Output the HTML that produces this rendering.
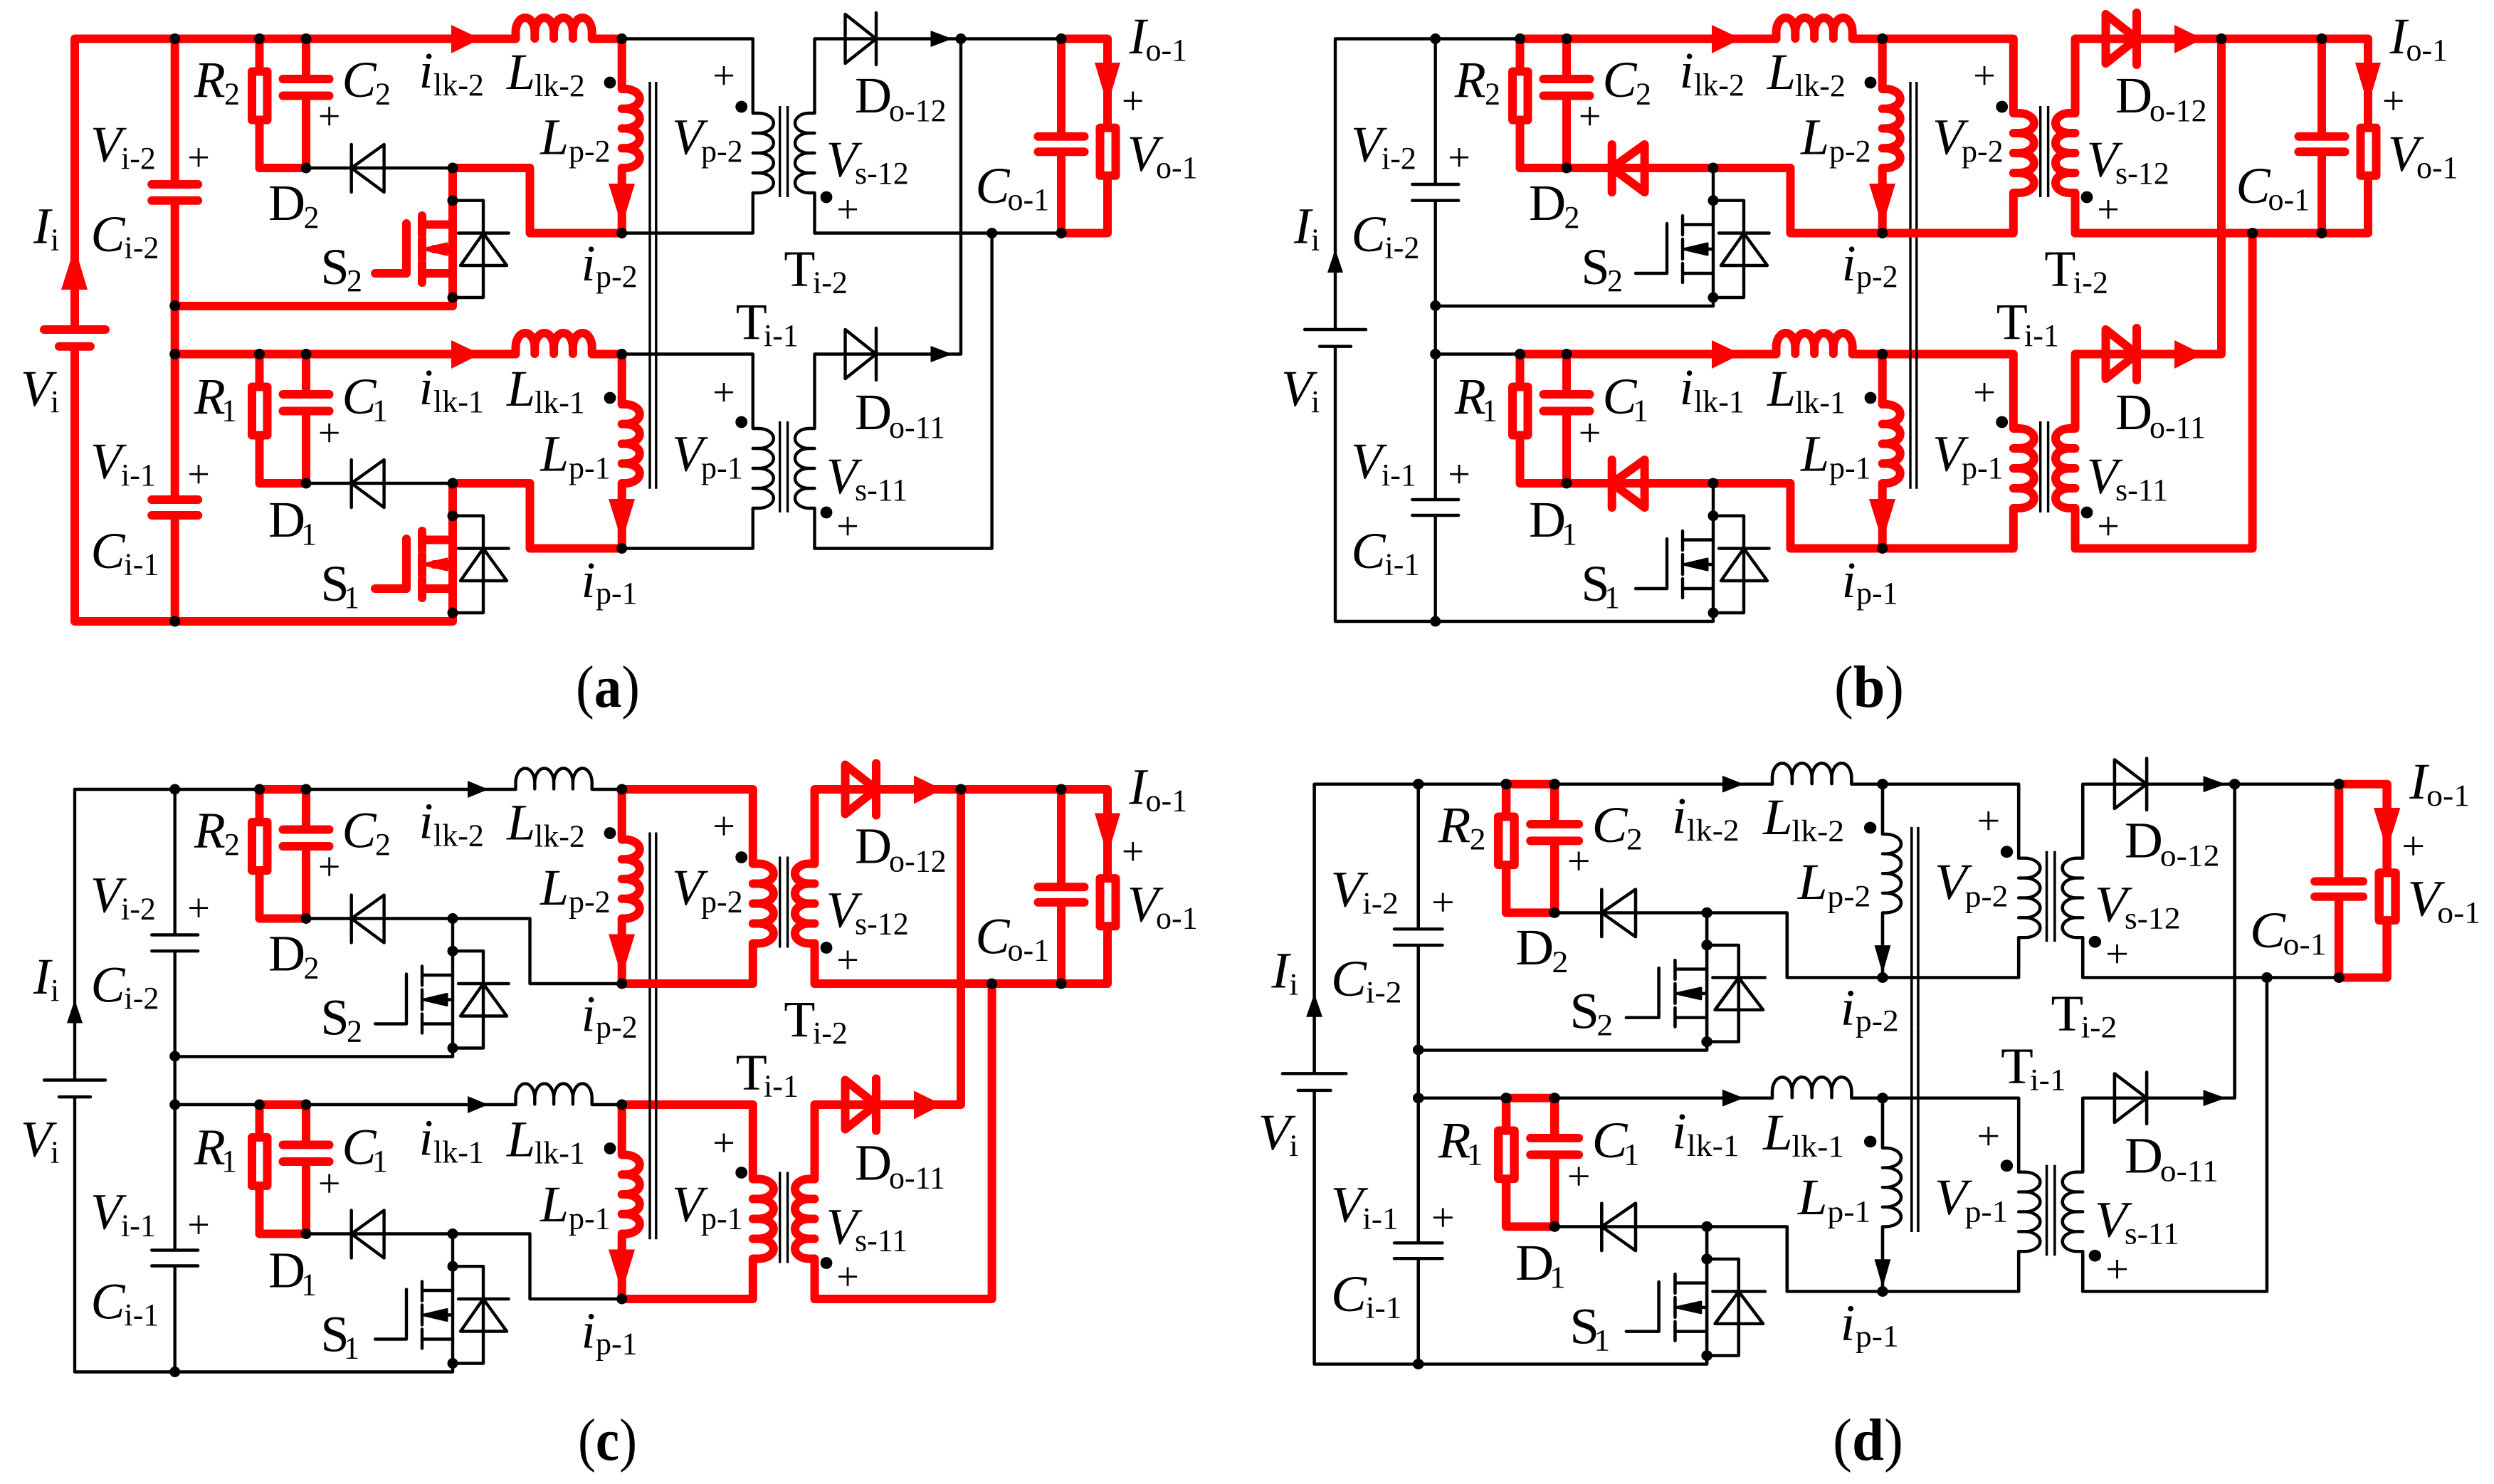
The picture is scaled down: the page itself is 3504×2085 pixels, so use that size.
<!DOCTYPE html>
<html><head><meta charset="utf-8"><title>Circuit operating stages</title>
<style>
html,body{margin:0;padding:0;background:#fff}
svg{display:block}
.r{color:#f00;stroke:#f00;stroke-width:12;fill:none;stroke-linecap:round;stroke-linejoin:round}
.k{color:#000;stroke:#000;stroke-width:4.4;fill:none;stroke-linecap:round;stroke-linejoin:round}
.c{stroke:#000;stroke-width:3.4;fill:none}
.rf{fill:#f00;stroke:none}
.kf{fill:#000;stroke:none}
.n{fill:#000;stroke:none}
.t text{font-family:"Liberation Serif",serif;font-style:italic;font-size:72px;fill:#000}
.t .s{font-style:normal;font-size:44px}
.t .u{font-style:normal}
.t .p{font-style:normal;font-size:56px;text-anchor:middle}
.cap{font-family:"Liberation Serif",serif;font-size:84px;fill:#000}
</style></head><body>
<svg xmlns="http://www.w3.org/2000/svg" width="3504" height="2085" viewBox="0 0 3504 2085">
<defs>
<g id="left"><path d="M105 463V54.5H245.7M105 486.7V873H245.7M62 463H148M83 486.7H127M245.7 54.5V259M245.7 281.7V702M245.7 724V873M213.2 259H278.2M213.2 281.7H278.2M213.2 702H278.2M213.2 724H278.2"/></g>
<path id="sA0" d="M245.7 54.5H364.5"/>
<g id="sA"><use href="#sA0"/><use href="#sA0" y="443"/></g>
<g id="rc0"><path d="M364.5 54.5H430M364.5 54.5V100.5M364.5 168.5V236H430M354 100.5H375.5V168.5H354ZM430 54.5V111M430 134.5V236M397.5 111H462.5M397.5 134.5H462.5"/></g>
<g id="rc"><use href="#rc0"/><use href="#rc0" y="443"/></g>
<path id="ilk0" d="M430 54.5H724.5V45a13.4 20 0 0 1 26.8 0V54V45a13.4 20 0 0 1 26.8 0V54V45a13.4 20 0 0 1 26.8 0V54V45a13.4 20 0 0 1 26.8 0V54.5H873.7"/>
<g id="ilk"><use href="#ilk0"/><use href="#ilk0" y="443"/></g>
<path id="dio0" d="M430 236H636M493.7 203V270M493.7 236L539.6 203V270Z"/>
<g id="dio"><use href="#dio0"/><use href="#dio0" y="443"/></g>
<path id="pk0" d="M636 236H744.5V327.5H873.7"/>
<g id="pk"><use href="#pk0"/><use href="#pk0" y="443"/></g>
<g id="sw0"><path d="M636 236V430H245.7M636 315.5H593M593 303V330M593 336V364M593 370V397M636 384H593M571 314V384H527M636 350H610"/><path d="M594 350L628 342V358Z" fill="currentColor" stroke-width="3"/></g>
<g id="sw"><use href="#sw0"/><use href="#sw0" y="443"/></g>
<g id="bd0"><path d="M636 281.7H679V418H636M644 327.5H714.7M679 327.5L647 373H712Z"/></g>
<g id="bd"><use href="#bd0"/><use href="#bd0" y="443"/></g>
<path id="lp0" d="M873.7 54.5V125H879a21 13.9 0 0 1 0 27.75H873.7H879a21 13.9 0 0 1 0 27.75H873.7H879a21 13.9 0 0 1 0 27.75H873.7H879a21 13.9 0 0 1 0 27.75H873.7V327.5"/>
<g id="lp"><use href="#lp0"/><use href="#lp0" y="443"/></g>
<path id="pri0" d="M873.7 54.5H1057.8V159H1065.8a21 14 0 0 1 0 28H1057.8H1065.8a21 14 0 0 1 0 28H1057.8H1065.8a21 14 0 0 1 0 28H1057.8H1065.8a21 14 0 0 1 0 28H1057.8V327.5H873.7"/>
<g id="pri"><use href="#pri0"/><use href="#pri0" y="443"/></g>
<path id="sec0" d="M1144.5 327.5V271H1136.5a19.5 14 0 0 1 0 -28H1144.5H1136.5a19.5 14 0 0 1 0 -28H1144.5H1136.5a19.5 14 0 0 1 0 -28H1144.5H1136.5a19.5 14 0 0 1 0 -28H1144.5V54.5H1231M1187.5 54.5M1231 18V91M1231 54.5L1187.5 20V89Z"/>
<g id="sec"><use href="#sec0"/><use href="#sec0" y="443"/></g>
<path id="out" d="M1231 54.5H1491M1144.5 327.5H1491M1231 497.5H1350V54.5M1393.6 327.5V770.5H1144.5"/>
<g id="load"><path d="M1491 54.5H1556V179.6M1556 246.7V327.5H1491M1545.5 179.6H1567.5V246.7H1545.5ZM1491 54.5V191.7M1491 213.3V327.5M1458.5 191.7H1523.5M1458.5 213.3H1523.5"/></g>
<g id="core1"><path class="c" d="M913 115V400M921.8 115V400M1095.7 149V277M1106.6 149V277"/></g>
<g id="core2"><path class="c" d="M913 400V686.7M921.8 400V686.7M1095.7 592V720M1106.6 592V720"/></g>
<g id="nodes"><g class="n">
<circle cx="245.7" cy="54.5" r="7.5"/><circle cx="364.5" cy="54.5" r="7.5"/><circle cx="430" cy="54.5" r="7.5"/><circle cx="873.7" cy="54.5" r="7.5"/><circle cx="430" cy="236" r="7.5"/><circle cx="636" cy="236" r="7.5"/><circle cx="636" cy="281.7" r="7.5"/><circle cx="636" cy="418" r="7.5"/><circle cx="245.7" cy="429.5" r="7.5"/><circle cx="873.7" cy="327.5" r="7.5"/><circle cx="1350" cy="54.5" r="7.5"/><circle cx="1393.6" cy="327.5" r="7.5"/><circle cx="1491" cy="54.5" r="7.5"/><circle cx="1491" cy="327.5" r="7.5"/>
<circle cx="245.7" cy="497.5" r="7.5"/><circle cx="364.5" cy="497.5" r="7.5"/><circle cx="430" cy="497.5" r="7.5"/><circle cx="873.7" cy="497.5" r="7.5"/><circle cx="430" cy="679" r="7.5"/><circle cx="636" cy="679" r="7.5"/><circle cx="636" cy="724.7" r="7.5"/><circle cx="636" cy="861" r="7.5"/><circle cx="873.7" cy="770.5" r="7.5"/><circle cx="245.7" cy="873" r="7.5"/>
<circle cx="857" cy="116" r="8.4"/><circle cx="1041.7" cy="150" r="8.4"/><circle cx="1161" cy="277" r="8.4"/><circle cx="857" cy="559" r="8.4"/><circle cx="1041.7" cy="593" r="8.4"/><circle cx="1161" cy="720" r="8.4"/>
</g></g>
<path id="rArrRail" d="M634 35L675 54.5L634 75ZM634 478L675 497.5L634 518Z"/>
<path id="kArrRail" d="M657 42.5L686 54.5L657 66.5ZM657 485.5L686 497.5L657 509.5Z"/>
<path id="rArrLp" d="M855 258H892L873.7 318ZM855 701H892L873.7 761Z"/>
<path id="kArrLp" d="M862.7 282H884.7L873.7 322ZM862.7 725H884.7L873.7 765Z"/>
<path id="rArrIn" d="M86 407H123L105 347Z"/>
<path id="kArrIn" d="M94 383H116L105 350Z"/>
<path id="rArrOut" d="M1284 35L1324 54.5L1284 75ZM1284 478L1324 497.5L1284 518Z"/>
<path id="kArrOut" d="M1307.5 43L1338 54.5L1307.5 66ZM1307.5 486L1338 497.5L1307.5 509Z"/>
<path id="arrLoad" d="M1538 88H1574L1556 148Z"/>
</defs>

<!-- PANEL A -->
<g>
<use href="#core1"/>
<g class="k"><use href="#dio"/><use href="#bd"/><use href="#pri"/><use href="#sec"/><use href="#out"/></g>
<g class="r"><use href="#left"/><use href="#sA"/><use href="#rc"/><use href="#ilk"/><use href="#pk"/><use href="#sw"/><use href="#lp"/><use href="#load"/></g>
<g class="rf"><use href="#rArrRail"/><use href="#rArrLp"/><use href="#rArrIn"/><use href="#arrLoad"/></g>
<g class="kf"><use href="#kArrOut"/></g>
<use href="#core2"/><use href="#nodes"/>
<g class="t">
<text x="127" y="227">V<tspan class="s" x="170" y="237">i-2</tspan></text><text x="127.5" y="353">C<tspan class="s" x="174.5" y="362.7">i-2</tspan></text><text x="272.7" y="136">R<tspan class="s" x="315" y="146.7">2</tspan></text><text x="480.5" y="136">C<tspan class="s" x="527" y="146.7">2</tspan></text><text x="588.6" y="123">i<tspan class="s" x="609" y="134">lk-2</tspan></text><text x="712" y="125">L<tspan class="s" x="751" y="135">lk-2</tspan></text><text x="759" y="216.7">L<tspan class="s" x="799" y="227">p-2</tspan></text><text class="u" x="377" y="309">D<tspan class="s" x="426.5" y="320">2</tspan></text><text class="u" x="450.5" y="399">S<tspan class="s" x="487" y="409">2</tspan></text><text x="816.6" y="394">i<tspan class="s" x="837" y="403">p-2</tspan></text><text x="944" y="216.7">V<tspan class="s" x="985" y="227">p-2</tspan></text><text class="u" x="1201" y="158">D<tspan class="s" x="1249" y="170">o-12</tspan></text><text x="1160.6" y="248">V<tspan class="s" x="1201" y="258">s-12</tspan></text><text class="u" x="1101.4" y="401.7">T<tspan class="s" x="1142" y="411.7">i-2</tspan></text><text class="u" x="1033.7" y="476">T<tspan class="s" x="1073" y="486">i-1</tspan></text><text x="1370.5" y="285">C<tspan class="s" x="1415.5" y="295">o-1</tspan></text><text x="1586.5" y="75">I<tspan class="s" x="1609.5" y="85">o-1</tspan></text><text x="1583.7" y="240">V<tspan class="s" x="1624" y="250">o-1</tspan></text><text x="47" y="341.7">I<tspan class="s" x="71" y="351.7">i</tspan></text><text x="29" y="570">V<tspan class="s" x="71" y="579">i</tspan></text>
<text x="127" y="672">V<tspan class="s" x="170" y="682">i-1</tspan></text><text x="127.5" y="798">C<tspan class="s" x="174.5" y="807.7">i-1</tspan></text><text x="272.7" y="581">R<tspan class="s" x="311" y="591.7">1</tspan></text><text x="480.5" y="581">C<tspan class="s" x="523" y="591.7">1</tspan></text><text x="588.6" y="568">i<tspan class="s" x="609" y="579">lk-1</tspan></text><text x="712" y="570">L<tspan class="s" x="751" y="580">lk-1</tspan></text><text x="759" y="661.7">L<tspan class="s" x="799" y="672">p-1</tspan></text><text class="u" x="377" y="754">D<tspan class="s" x="423" y="765">1</tspan></text><text class="u" x="450.5" y="844">S<tspan class="s" x="483" y="854">1</tspan></text><text x="816.6" y="839">i<tspan class="s" x="837" y="848">p-1</tspan></text><text x="944" y="661.7">V<tspan class="s" x="985" y="672">p-1</tspan></text><text class="u" x="1201" y="603">D<tspan class="s" x="1249" y="615">o-11</tspan></text><text x="1160.6" y="693">V<tspan class="s" x="1201" y="703">s-11</tspan></text>
<text class="p" x="462.7" y="182">+</text><text class="p" x="279" y="240">+</text><text class="p" x="1017" y="125">+</text><text class="p" x="1191" y="313">+</text><text class="p" x="1591.7" y="160.7">+</text><text class="p" x="462.7" y="627">+</text><text class="p" x="279" y="685">+</text><text class="p" x="1017" y="570">+</text><text class="p" x="1191" y="758">+</text>
</g>
<text class="cap" x="809" y="993" textLength="90" lengthAdjust="spacingAndGlyphs">(<tspan font-weight="bold">a</tspan>)</text>
</g>

<!-- PANEL B -->
<g transform="translate(1771 0)">
<use href="#core1"/>
<g class="k"><use href="#left"/><use href="#sA"/><use href="#sw"/><use href="#bd"/></g>
<g class="r"><use href="#rc"/><use href="#ilk"/><use href="#dio"/><use href="#pk"/><use href="#lp"/><use href="#pri"/><use href="#sec"/><use href="#out"/><use href="#load"/></g>
<g class="rf"><use href="#rArrRail"/><use href="#rArrLp"/><use href="#rArrOut"/><use href="#arrLoad"/></g>
<g class="kf"><use href="#kArrIn"/></g>
<use href="#core2"/><use href="#nodes"/>
<g class="t">
<text x="127" y="227">V<tspan class="s" x="170" y="237">i-2</tspan></text><text x="127.5" y="353">C<tspan class="s" x="174.5" y="362.7">i-2</tspan></text><text x="272.7" y="136">R<tspan class="s" x="315" y="146.7">2</tspan></text><text x="480.5" y="136">C<tspan class="s" x="527" y="146.7">2</tspan></text><text x="588.6" y="123">i<tspan class="s" x="609" y="134">lk-2</tspan></text><text x="712" y="125">L<tspan class="s" x="751" y="135">lk-2</tspan></text><text x="759" y="216.7">L<tspan class="s" x="799" y="227">p-2</tspan></text><text class="u" x="377" y="309">D<tspan class="s" x="426.5" y="320">2</tspan></text><text class="u" x="450.5" y="399">S<tspan class="s" x="487" y="409">2</tspan></text><text x="816.6" y="394">i<tspan class="s" x="837" y="403">p-2</tspan></text><text x="944" y="216.7">V<tspan class="s" x="985" y="227">p-2</tspan></text><text class="u" x="1201" y="158">D<tspan class="s" x="1249" y="170">o-12</tspan></text><text x="1160.6" y="248">V<tspan class="s" x="1201" y="258">s-12</tspan></text><text class="u" x="1101.4" y="401.7">T<tspan class="s" x="1142" y="411.7">i-2</tspan></text><text class="u" x="1033.7" y="476">T<tspan class="s" x="1073" y="486">i-1</tspan></text><text x="1370.5" y="285">C<tspan class="s" x="1415.5" y="295">o-1</tspan></text><text x="1586.5" y="75">I<tspan class="s" x="1609.5" y="85">o-1</tspan></text><text x="1583.7" y="240">V<tspan class="s" x="1624" y="250">o-1</tspan></text><text x="47" y="341.7">I<tspan class="s" x="71" y="351.7">i</tspan></text><text x="29" y="570">V<tspan class="s" x="71" y="579">i</tspan></text>
<text x="127" y="672">V<tspan class="s" x="170" y="682">i-1</tspan></text><text x="127.5" y="798">C<tspan class="s" x="174.5" y="807.7">i-1</tspan></text><text x="272.7" y="581">R<tspan class="s" x="311" y="591.7">1</tspan></text><text x="480.5" y="581">C<tspan class="s" x="523" y="591.7">1</tspan></text><text x="588.6" y="568">i<tspan class="s" x="609" y="579">lk-1</tspan></text><text x="712" y="570">L<tspan class="s" x="751" y="580">lk-1</tspan></text><text x="759" y="661.7">L<tspan class="s" x="799" y="672">p-1</tspan></text><text class="u" x="377" y="754">D<tspan class="s" x="423" y="765">1</tspan></text><text class="u" x="450.5" y="844">S<tspan class="s" x="483" y="854">1</tspan></text><text x="816.6" y="839">i<tspan class="s" x="837" y="848">p-1</tspan></text><text x="944" y="661.7">V<tspan class="s" x="985" y="672">p-1</tspan></text><text class="u" x="1201" y="603">D<tspan class="s" x="1249" y="615">o-11</tspan></text><text x="1160.6" y="693">V<tspan class="s" x="1201" y="703">s-11</tspan></text>
<text class="p" x="462.7" y="182">+</text><text class="p" x="279" y="240">+</text><text class="p" x="1017" y="125">+</text><text class="p" x="1191" y="313">+</text><text class="p" x="1591.7" y="160.7">+</text><text class="p" x="462.7" y="627">+</text><text class="p" x="279" y="685">+</text><text class="p" x="1017" y="570">+</text><text class="p" x="1191" y="758">+</text>
</g>
</g>
<text class="cap" x="2577" y="993" textLength="98" lengthAdjust="spacingAndGlyphs">(<tspan font-weight="bold">b</tspan>)</text>

<!-- PANEL C -->
<g transform="translate(0 1054.5)">
<use href="#core1"/>
<g class="k"><use href="#left"/><use href="#sA"/><use href="#ilk"/><use href="#dio"/><use href="#pk"/><use href="#sw"/><use href="#bd"/></g>
<g class="r"><use href="#rc"/><use href="#lp"/><use href="#pri"/><use href="#sec"/><use href="#out"/><use href="#load"/></g>
<g class="rf"><use href="#rArrLp"/><use href="#rArrOut"/><use href="#arrLoad"/></g>
<g class="kf"><use href="#kArrRail"/><use href="#kArrIn"/></g>
<use href="#core2"/><use href="#nodes"/>
<g class="t">
<text x="127" y="227">V<tspan class="s" x="170" y="237">i-2</tspan></text><text x="127.5" y="353">C<tspan class="s" x="174.5" y="362.7">i-2</tspan></text><text x="272.7" y="136">R<tspan class="s" x="315" y="146.7">2</tspan></text><text x="480.5" y="136">C<tspan class="s" x="527" y="146.7">2</tspan></text><text x="588.6" y="123">i<tspan class="s" x="609" y="134">lk-2</tspan></text><text x="712" y="125">L<tspan class="s" x="751" y="135">lk-2</tspan></text><text x="759" y="216.7">L<tspan class="s" x="799" y="227">p-2</tspan></text><text class="u" x="377" y="309">D<tspan class="s" x="426.5" y="320">2</tspan></text><text class="u" x="450.5" y="399">S<tspan class="s" x="487" y="409">2</tspan></text><text x="816.6" y="394">i<tspan class="s" x="837" y="403">p-2</tspan></text><text x="944" y="216.7">V<tspan class="s" x="985" y="227">p-2</tspan></text><text class="u" x="1201" y="158">D<tspan class="s" x="1249" y="170">o-12</tspan></text><text x="1160.6" y="248">V<tspan class="s" x="1201" y="258">s-12</tspan></text><text class="u" x="1101.4" y="401.7">T<tspan class="s" x="1142" y="411.7">i-2</tspan></text><text class="u" x="1033.7" y="476">T<tspan class="s" x="1073" y="486">i-1</tspan></text><text x="1370.5" y="285">C<tspan class="s" x="1415.5" y="295">o-1</tspan></text><text x="1586.5" y="75">I<tspan class="s" x="1609.5" y="85">o-1</tspan></text><text x="1583.7" y="240">V<tspan class="s" x="1624" y="250">o-1</tspan></text><text x="47" y="341.7">I<tspan class="s" x="71" y="351.7">i</tspan></text><text x="29" y="570">V<tspan class="s" x="71" y="579">i</tspan></text>
<text x="127" y="672">V<tspan class="s" x="170" y="682">i-1</tspan></text><text x="127.5" y="798">C<tspan class="s" x="174.5" y="807.7">i-1</tspan></text><text x="272.7" y="581">R<tspan class="s" x="311" y="591.7">1</tspan></text><text x="480.5" y="581">C<tspan class="s" x="523" y="591.7">1</tspan></text><text x="588.6" y="568">i<tspan class="s" x="609" y="579">lk-1</tspan></text><text x="712" y="570">L<tspan class="s" x="751" y="580">lk-1</tspan></text><text x="759" y="661.7">L<tspan class="s" x="799" y="672">p-1</tspan></text><text class="u" x="377" y="754">D<tspan class="s" x="423" y="765">1</tspan></text><text class="u" x="450.5" y="844">S<tspan class="s" x="483" y="854">1</tspan></text><text x="816.6" y="839">i<tspan class="s" x="837" y="848">p-1</tspan></text><text x="944" y="661.7">V<tspan class="s" x="985" y="672">p-1</tspan></text><text class="u" x="1201" y="603">D<tspan class="s" x="1249" y="615">o-11</tspan></text><text x="1160.6" y="693">V<tspan class="s" x="1201" y="703">s-11</tspan></text>
<text class="p" x="462.7" y="182">+</text><text class="p" x="279" y="240">+</text><text class="p" x="1017" y="125">+</text><text class="p" x="1191" y="313">+</text><text class="p" x="1591.7" y="160.7">+</text><text class="p" x="462.7" y="627">+</text><text class="p" x="279" y="685">+</text><text class="p" x="1017" y="570">+</text><text class="p" x="1191" y="758">+</text>
</g>
</g>
<text class="cap" x="812" y="2051" textLength="83" lengthAdjust="spacingAndGlyphs">(<tspan font-weight="bold">c</tspan>)</text>

<!-- PANEL D -->
<g transform="translate(1737.55 1047.45) scale(1.0386 .9955)">
<use href="#core1"/>
<g class="k"><use href="#left"/><use href="#sA"/><use href="#ilk"/><use href="#dio"/><use href="#pk"/><use href="#sw"/><use href="#bd"/><use href="#lp"/><use href="#pri"/><use href="#sec"/><use href="#out"/></g>
<g class="r"><use href="#rc"/><use href="#load"/></g>
<g class="rf"><use href="#arrLoad"/></g>
<g class="kf"><use href="#kArrRail"/><use href="#kArrLp"/><use href="#kArrOut"/><use href="#kArrIn"/></g>
<use href="#core2"/><use href="#nodes"/>
<g class="t">
<text x="127" y="227">V<tspan class="s" x="170" y="237">i-2</tspan></text><text x="127.5" y="353">C<tspan class="s" x="174.5" y="362.7">i-2</tspan></text><text x="272.7" y="136">R<tspan class="s" x="315" y="146.7">2</tspan></text><text x="480.5" y="136">C<tspan class="s" x="527" y="146.7">2</tspan></text><text x="588.6" y="123">i<tspan class="s" x="609" y="134">lk-2</tspan></text><text x="712" y="125">L<tspan class="s" x="751" y="135">lk-2</tspan></text><text x="759" y="216.7">L<tspan class="s" x="799" y="227">p-2</tspan></text><text class="u" x="377" y="309">D<tspan class="s" x="426.5" y="320">2</tspan></text><text class="u" x="450.5" y="399">S<tspan class="s" x="487" y="409">2</tspan></text><text x="816.6" y="394">i<tspan class="s" x="837" y="403">p-2</tspan></text><text x="944" y="216.7">V<tspan class="s" x="985" y="227">p-2</tspan></text><text class="u" x="1201" y="158">D<tspan class="s" x="1249" y="170">o-12</tspan></text><text x="1160.6" y="248">V<tspan class="s" x="1201" y="258">s-12</tspan></text><text class="u" x="1101.4" y="401.7">T<tspan class="s" x="1142" y="411.7">i-2</tspan></text><text class="u" x="1033.7" y="476">T<tspan class="s" x="1073" y="486">i-1</tspan></text><text x="1370.5" y="285">C<tspan class="s" x="1415.5" y="295">o-1</tspan></text><text x="1586.5" y="75">I<tspan class="s" x="1609.5" y="85">o-1</tspan></text><text x="1583.7" y="240">V<tspan class="s" x="1624" y="250">o-1</tspan></text><text x="47" y="341.7">I<tspan class="s" x="71" y="351.7">i</tspan></text><text x="29" y="570">V<tspan class="s" x="71" y="579">i</tspan></text>
<text x="127" y="672">V<tspan class="s" x="170" y="682">i-1</tspan></text><text x="127.5" y="798">C<tspan class="s" x="174.5" y="807.7">i-1</tspan></text><text x="272.7" y="581">R<tspan class="s" x="311" y="591.7">1</tspan></text><text x="480.5" y="581">C<tspan class="s" x="523" y="591.7">1</tspan></text><text x="588.6" y="568">i<tspan class="s" x="609" y="579">lk-1</tspan></text><text x="712" y="570">L<tspan class="s" x="751" y="580">lk-1</tspan></text><text x="759" y="661.7">L<tspan class="s" x="799" y="672">p-1</tspan></text><text class="u" x="377" y="754">D<tspan class="s" x="423" y="765">1</tspan></text><text class="u" x="450.5" y="844">S<tspan class="s" x="483" y="854">1</tspan></text><text x="816.6" y="839">i<tspan class="s" x="837" y="848">p-1</tspan></text><text x="944" y="661.7">V<tspan class="s" x="985" y="672">p-1</tspan></text><text class="u" x="1201" y="603">D<tspan class="s" x="1249" y="615">o-11</tspan></text><text x="1160.6" y="693">V<tspan class="s" x="1201" y="703">s-11</tspan></text>
<text class="p" x="462.7" y="182">+</text><text class="p" x="279" y="240">+</text><text class="p" x="1017" y="125">+</text><text class="p" x="1191" y="313">+</text><text class="p" x="1591.7" y="160.7">+</text><text class="p" x="462.7" y="627">+</text><text class="p" x="279" y="685">+</text><text class="p" x="1017" y="570">+</text><text class="p" x="1191" y="758">+</text>
</g>
</g>
<text class="cap" x="2575" y="2051" textLength="99" lengthAdjust="spacingAndGlyphs">(<tspan font-weight="bold">d</tspan>)</text>
</svg>
</body></html>
